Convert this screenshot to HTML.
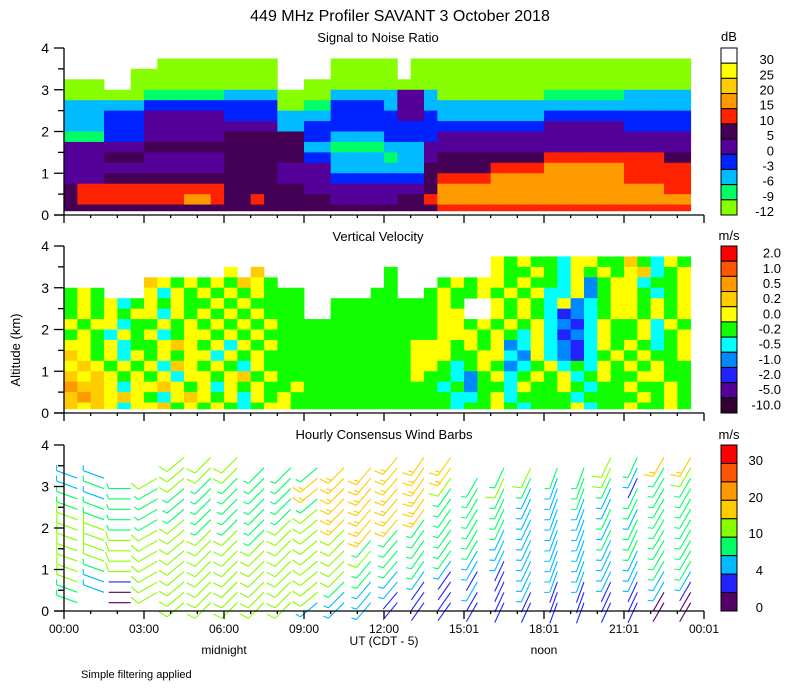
<!DOCTYPE html>
<html><head><meta charset="utf-8"><style>
html,body{margin:0;padding:0;background:#fff;}
svg{display:block;font-family:"Liberation Sans","DejaVu Sans",sans-serif;}
</style></head><body>
<svg id="chart" width="800" height="700" viewBox="0 0 800 700" xmlns="http://www.w3.org/2000/svg">
<text x="400" y="21" font-size="16" text-anchor="middle">449 MHz Profiler SAVANT  3 October 2018</text>
<text x="378" y="42" font-size="13" text-anchor="middle">Signal to Noise Ratio</text>
<text x="378" y="241" font-size="13" text-anchor="middle">Vertical Velocity</text>
<text x="384" y="439" font-size="13" text-anchor="middle">Hourly Consensus Wind Barbs</text>
<text x="20" y="350" font-size="13" text-anchor="middle" transform="rotate(-90 20 350)">Altitude (km)</text>
<text x="224" y="654" font-size="12" text-anchor="middle">midnight</text>
<text x="544" y="654" font-size="12" text-anchor="middle">noon</text>
<text x="384" y="645" font-size="12" text-anchor="middle">UT  (CDT - 5)</text>
<text x="81" y="678" font-size="11">Simple filtering applied</text>
<text x="729" y="41" font-size="13" text-anchor="middle">dB</text>
<text x="729" y="240" font-size="13" text-anchor="middle">m/s</text>
<text x="729" y="439" font-size="13" text-anchor="middle">m/s</text>
<g id="marks"></g>
</svg>
<script>
var xTickLabels = ["00:00","03:00","06:00","09:00","12:00","15:01","18:01","21:01","00:01"];
var yTickLabels = ["0","1","2","3","4"];
// SNR: rows from 3.75-4.0 km down to 0-0.25 km; 48 half-hour columns
var snrCategories = ["-12","-9","-6","-3","0","5","10","15","20","25","30"];
var snrColors = ["#88ff00","#00ff66","#00bbff","#0022ff","#550099","#440055","#ff2200","#ff9900","#ffcc00","#ffff00","#ffffff"];
var snrRows = [
"................................................",
".......000000000....00000.000000000000000000000.",
".....00000000000....00000.000000000000000000000.",
"000..00000000000..00000000000000000000000000000.",
"000"+"000"+"111111"+"2222"+"00"+"00"+"2222"+"2"+"44"+"2"+"0000"+"0000"+"111111"+"22222"+".",
"222"+"222"+"333333"+"3333"+"00"+"11"+"3333"+"2"+"44"+"2"+"22222222"+"222222"+"22222"+".",
"222"+"333"+"444444"+"3333"+"22"+"22"+"3333"+"3"+"44"+"3"+"2222"+"2222"+"333333"+"33333"+".",
"222"+"333"+"444444"+"4444"+"22"+"33"+"3333"+"333333333333"+"444444"+"33333"+".",
"111"+"333"+"444444"+"5555"+"55"+"33"+"2222"+"3"+"33"+"3"+"4444"+"4444"+"444444"+"44444"+".",
"444"+"444"+"555555"+"5555"+"55"+"22"+"1111"+"2"+"22"+"4"+"4444"+"4444"+"444444"+"44444"+".",
"444"+"555"+"444444"+"5555"+"55"+"33"+"2222"+"1"+"22"+"4"+"5555"+"5555"+"666666"+"666"+"55"+".",
"444"+"444"+"444444"+"5555"+"44"+"44"+"2222"+"2"+"22"+"5"+"5555"+"6666"+"777777"+"666"+"66"+".",
"444"+"555"+"555555"+"5555"+"44"+"44"+"3333"+"3"+"33"+"5"+"6666"+"7777"+"777777"+"666"+"66"+".",
"5"+"66"+"666"+"666666"+"5555"+"55"+"44"+"4444"+"4"+"44"+"5"+"7777"+"7777"+"777777"+"777"+"66"+".",
"5"+"66"+"666"+"666776"+"5565"+"55"+"55"+"4444"+"4"+"55"+"6"+"7777"+"7777"+"777777"+"77777"+".",
"5555555555555555555555555555"+"6666666666666666666"+"."
];
// Vertical velocity: same layout
var vvCategories = ["-10.0","-5.0","-2.0","-1.0","-0.5","-0.2","0.0","0.2","0.5","1.0","2.0"];
var vvCodeColors = {"0":"#11ff00","1":"#ffff00","2":"#ffcc00","3":"#ff9900","c":"#00ffff","b":"#0088ff","B":"#2222ff"};
var vvRows = [
"................................................",
"................................"+"1010"+"0c1100"+"20c10"+".",
".........."+"..1.2."+"........"+"0"+"......."+"1001"+"0c1010"+"12c01"+".",
"......"+"2101"+"010210"+"........"+"0"+"..."+"0101"+"1010"+"0c1b01"+"1c001"+".",
"010"+"..."+"1c10"+"101010"+"00"+"....."+"0"+"0"+".."+"0"+"1001"+"0101"+"cc1b01"+"10c01"+".",
"010"+"1c0"+"1010"+"010100"+"00"+".."+"000"+"0"+"0"+"00"+"0"+"10.."+"1010"+"c1bc01"+"10101"+".",
"010"+"101"+"1c10"+"101010"+"00"+".."+"000"+"0"+"0"+"00"+"0"+"11.."+"1010"+"cBbc01"+"10101"+".",
"101"+"1c0"+"0101"+"010101"+"00"+"00"+"000"+"0"+"0"+"00"+"0"+"1101"+"0101"+"cbBc10"+"01c10"+".",
"010"+"c10"+"1c01"+"101010"+"00"+"00"+"000"+"0"+"0"+"00"+"0"+"1110"+"10c1"+"cBbc10"+"01c01"+".",
"110"+"1c0"+"0121"+"01c101"+"00"+"00"+"000"+"0"+"0"+"01"+"1"+"1010"+"1bc1"+"cbBc10"+"10c01"+".",
"210"+"1c1"+"0101"+"1c1010"+"00"+"00"+"000"+"0"+"0"+"01"+"1"+"1001"+"1cb1"+"cbBc01"+"01001"+".",
"121"+"010"+"1c21"+"010c10"+"00"+"00"+"000"+"0"+"0"+"01"+"1"+"0c01"+"0bc0"+"1c0c10"+"10100"+".",
"212"+"101"+"01c1"+"101201"+"00"+"00"+"000"+"0"+"0"+"01"+"0"+"0cb0"+"1c01"+"01c010"+"01100"+".",
"322"+"1c1"+"1210"+"1c1010"+"01"+"00"+"000"+"0"+"0"+"00"+"0"+"c0b0"+"0c10"+"010c00"+"10010"+".",
"232"+"121"+"0c12"+"101c10"+"10"+"00"+"000"+"0"+"0"+"00"+"0"+"0cc0"+"1c00"+"00c000"+"01010"+".",
"212"+"1c1"+"1201"+"010c01"+"10"+"00"+"000"+"0"+"0"+"00"+"0"+"0c00"+"10c0"+"001c00"+"10010"+"."
];
// Wind barbs: levels 3.7 km down to 0.2 km, hourly columns
var windSpeedLabels = ["0","4","10","20","30"];
var windColors = ["#550066","#2222ff","#00bbff","#00ff66","#88ff00","#ffcc00","#ff9900","#ff5500","#ff0000"];
var windSpeedValues = [1,3,5,8,12,17,22,27,32];
var windRows = [
"....444.....555.....4355",
"....44433355555.34334234",
"22.443333555554343233133",
"233333333555553332232333",
"323333333355553332222333",
"333333333455553332223233",
"433343334455533332222333",
"443444434445333322223333",
"444444444443333322222333",
"444444444444333222222233",
"444444444443332212222233",
"434444444443221112222222",
"421444444432211212111121",
"320444444422111111111100",
"3.0.44444222111111111100"
];
var windDirections = [290,290,270,240,230,225,225,225,225,230,225,220,220,215,215,210,205,205,200,200,205,205,210,210];

var X0 = 64, X1 = 704;
var panelBase = [215, 413, 611];
var panelScale = [41.75, 41.75, 41.5];
function xs(t){ return X0 + t*(X1-X0)/24; }
function ys(p, alt){ return panelBase[p] - alt*panelScale[p]; }
var NS = "http://www.w3.org/2000/svg";
var g = document.getElementById("marks");
function mk(tag, attrs, parent){
  var e = document.createElementNS(NS, tag);
  for (var k in attrs) e.setAttribute(k, attrs[k]);
  (parent||g).appendChild(e); return e;
}
function normRow(s){ if (s.length<48) s = s + ".".repeat(48-s.length); return s.slice(0,48); }

var snrG = mk("g", {});


snrRows.forEach(function(row, i){
  row = normRow(row);
  var r = snrRows.length-1-i;
  for (var c=0;c<48;c++){
    var ch=row[c]; if (ch===".") continue;
    var a0=Math.max(r*0.25,0.1), a1=(r+1)*0.25;
    var rc = mk("rect",{x:xs(c*0.5),y:ys(0,a1),width:xs(c*0.5+0.5)-xs(c*0.5)+0.4,height:ys(0,a0)-ys(0,a1)+0.4,fill:snrColors[+ch]}, snrG);
    
    
  }
});
var vvG = mk("g", {});


vvRows.forEach(function(row, i){
  row = normRow(row);
  var r = vvRows.length-1-i;
  for (var c=0;c<48;c++){
    var ch=row[c]; if (!vvCodeColors[ch]) continue;
    var a0=Math.max(r*0.25,0.1), a1=(r+1)*0.25;
    var rc = mk("rect",{x:xs(c*0.5),y:ys(1,a1),width:xs(c*0.5+0.5)-xs(c*0.5)+0.4,height:ys(1,a0)-ys(1,a1)+0.4,fill:vvCodeColors[ch]}, vvG);
    
    
  }
});
var wG = mk("g", {"stroke-width":1.1, fill:"none"});


windRows.forEach(function(row, i){
  var lev = windRows.length-1-i;
  var alt = 0.2 + 0.25*lev;
  for (var h=0; h<24; h++){
    var ch=row[h]; if (ch===".") continue;
    var sp = windSpeedValues[+ch], col = windColors[+ch];
    var d = windDirections[h]*Math.PI/180;
    var ux=Math.sin(d), uy=-Math.cos(d);
    var px=xs(h+0.5), py=ys(2,alt), L=22;
    var ex=px+ux*L, ey=py+uy*L;
    var path="M"+px+" "+py+"L"+ex+" "+ey;
    var full=Math.floor(sp/10), half=(sp%10)>=5?1:0;
    var fx=-uy, fy=ux;
    for (var k=0;k<full;k++){
      var bx=ex-ux*k*4, by=ey-uy*k*4;
      path+="M"+bx+" "+by+"L"+(bx+fx*9+ux*3)+" "+(by+fy*9+uy*3);
    }
    if (half){ var bx2=ex-ux*full*4, by2=ey-uy*full*4;
      path+="M"+bx2+" "+by2+"L"+(bx2+fx*5+ux*2)+" "+(by2+fy*5+uy*2); }
    var b = mk("path",{d:path, stroke:col}, wG);
    
    
  }
});

for (var p=0;p<3;p++){
  var ax = mk("g",{stroke:"#000","stroke-width":1.3});
  
  
  var yBase=panelBase[p], yTop=ys(p,4);
  mk("line",{x1:X0,y1:yTop,x2:X0,y2:yBase},ax);
  mk("line",{x1:X0-10,y1:yBase,x2:X1,y2:yBase},ax);
  for (var k=0;k<=8;k++){ var yy=ys(p,k*0.5);
    mk("line",{x1:(k%2===0)?X0-10:X0-6,y1:yy,x2:X0,y2:yy},ax); }
  for (var hh=0;hh<=24;hh++){ var xx=xs(hh);
    mk("line",{x1:xx,y1:yBase,x2:xx,y2:yBase+((hh%3===0)?8:3)},ax); }
  yTickLabels.forEach(function(lb,k){
    var t = mk("text",{x:49,y:ys(p,k)+5,"font-size":14,"text-anchor":"end"});
    t.textContent=lb;
    
    
  });
}
xTickLabels.forEach(function(lb,k){
  var t = mk("text",{x:xs(k*3),y:633,"font-size":12,"text-anchor":"middle"});
  t.textContent=lb;
  
  
});

function colorbar(colorsTopDown, y0, y1, name){
  var n=colorsTopDown.length, h=(y1-y0)/n;
  colorsTopDown.forEach(function(c,i){
    var r = mk("rect",{x:721,y:y0+i*h,width:16,height:h,fill:c,stroke:"#000","stroke-width":1});
    
    
  });
  return h;
}
var h1 = colorbar(snrColors.slice().reverse(), 48, 215, "snr-colorbar");
snrCategories.slice().reverse().forEach(function(lb,i){
  var t = mk("text",{x:774,y:48+h1*(i+1)+1,"font-size":13,"text-anchor":"end"});
  t.textContent=lb;
  
  
});
var vvBar = ["#ff0000","#ff5500","#ff9900","#ffcc00","#ffff00","#11ff00","#00ffff","#0088ff","#2222ff","#550099","#330033"];
var h2 = colorbar(vvBar, 246, 413, "velocity-colorbar");
vvCategories.slice().reverse().forEach(function(lb,i){
  var t = mk("text",{x:781,y:246+h2*(i+0.5)+4,"font-size":13,"text-anchor":"end"});
  t.textContent=lb;
  
  
});
var h3 = colorbar(windColors.slice().reverse(), 445, 611, "wind-colorbar");
var wLabY = [607,570,533,497,460];
windSpeedLabels.forEach(function(lb,i){
  var t = mk("text",{x:763,y:wLabY[i]+5,"font-size":13,"text-anchor":"end"});
  t.textContent=lb;
  
  
});
</script>
</body></html>
